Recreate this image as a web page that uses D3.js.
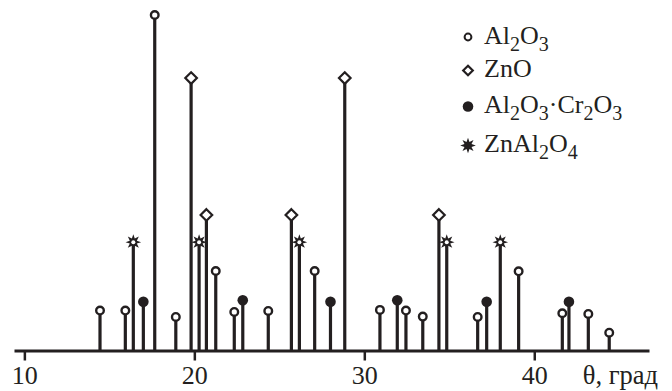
<!DOCTYPE html>
<html><head><meta charset="utf-8">
<script src="https://cdn.jsdelivr.net/npm/d3@7"></script>
<style>html,body{margin:0;padding:0;background:#fff}svg{display:block;font-family:"Liberation Serif","Times New Roman",serif}</style>
</head><body>
<svg id="c" width="672" height="391"></svg>
<script>
// theta positions and relative intensities for each phase
const al2o3Theta = [14.45, 15.94, 17.67, 18.91, 21.26, 22.35, 24.35, 27.08, 30.92, 32.45, 33.44, 36.67, 39.08, 41.65, 43.18, 44.41];
const al2o3Int   = [11.9, 11.9, 100, 10.0, 23.7, 11.5, 11.8, 23.7, 12.1, 11.9, 10.1, 10.0, 23.6, 11.1, 10.9, 5.3];
const znoTheta   = [19.81, 20.71, 25.71, 28.85, 34.39];
const znoInt     = [81.2, 40.4, 40.4, 81.2, 40.4];
const crTheta    = [17.0, 22.85, 28.01, 31.94, 37.2, 42.04];
const crInt      = [14.5, 15.0, 14.5, 15.0, 14.5, 14.5];
const spTheta    = [16.41, 20.28, 26.18, 34.85, 38.0];
const spInt      = [32.3, 32.3, 32.3, 32.3, 32.3];
const xTicks = [10, 20, 30, 40];
const xLabel = "θ, град";

const ink = "#231f20";
const FONT = '"Liberation Serif","Times New Roman",serif';
const svg = d3.select("#c");
const x = d3.scaleLinear().domain([9.39, 46.75]).range([14, 649]);
const y = d3.scaleLinear().domain([0, 100]).range([350.5, 15]);

const series = [
  {type: "open",    theta: al2o3Theta, val: al2o3Int},
  {type: "diamond", theta: znoTheta,   val: znoInt},
  {type: "filled",  theta: crTheta,    val: crInt},
  {type: "star",    theta: spTheta,    val: spInt}
];

function starPath(R, r, n) {
  const pts = [];
  for (let i = 0; i < 2 * n; i++) {
    const a = Math.PI * i / n - Math.PI / 2;
    const rad = i % 2 === 0 ? R : r;
    pts.push([rad * Math.cos(a), rad * Math.sin(a)]);
  }
  return d3.line()(pts) + "Z";
}

function drawMarker(g, type, cx, cy, legend) {
  if (type === "open") {
    g.append("circle").attr("cx", cx).attr("cy", cy).attr("r", legend ? 3.4 : 3.8)
      .attr("fill", "#fff").attr("stroke", ink).attr("stroke-width", legend ? 2 : 2.4);
  } else if (type === "filled") {
    g.append("circle").attr("cx", cx).attr("cy", cy).attr("r", 5.3).attr("fill", ink);
  } else if (type === "diamond") {
    const s = legend ? 4.8 : 5.8;
    g.append("path").attr("d", `M${cx},${cy - s}L${cx + s},${cy}L${cx},${cy + s}L${cx - s},${cy}Z`)
      .attr("fill", "#fff").attr("stroke", ink).attr("stroke-width", 2.2);
  } else if (type === "star") {
    g.append("path").attr("d", starPath(7.8, 3.8, 8)).attr("transform", `translate(${cx},${cy})`).attr("fill", ink);
    if (!legend) g.append("circle").attr("cx", cx).attr("cy", cy).attr("r", 2).attr("fill", "#fff");
  }
}

// stems
const gS = svg.append("g");
series.forEach(s => {
  s.theta.forEach((t, i) => {
    gS.append("line").attr("x1", x(t)).attr("x2", x(t)).attr("y1", y(0)).attr("y2", y(s.val[i]))
      .attr("stroke", ink).attr("stroke-width", 3.2);
  });
});
// axis
const axis = d3.axisBottom(x).tickValues(xTicks).tickSizeInner(10).tickSizeOuter(0).tickPadding(6).tickFormat(d3.format("d"));
const gA = svg.append("g").attr("transform", `translate(0,${y(0)})`).call(axis);
gA.attr("font-family", FONT);
gA.select(".domain").attr("stroke", ink).attr("stroke-width", 3);
gA.selectAll(".tick line").attr("stroke", ink).attr("stroke-width", 2.5);
gA.selectAll(".tick text").attr("fill", ink).style("font-size", "26px").style("font-family", FONT)
  .attr("dy", null).attr("y", 33.5);
svg.append("text").attr("x", 658).attr("y", 384).attr("text-anchor", "end")
  .style("font-size", "26.5px").style("font-family", FONT).attr("fill", ink).text(xLabel);

// markers
const gM = svg.append("g");
series.forEach(s => {
  s.theta.forEach((t, i) => drawMarker(gM, s.type, x(t), y(s.val[i]), false));
});

// legend
const legendItems = [
  {type: "open",    parts: [["Al",0],["2",1],["O",0],["3",1]]},
  {type: "diamond", parts: [["ZnO",0]]},
  {type: "filled",  parts: [["Al",0],["2",1],["O",0],["3",1],["·Cr",0],["2",1],["O",0],["3",1]]},
  {type: "star",    parts: [["ZnAl",0],["2",1],["O",0],["4",1]]}
];
const legRows = [37, 70.5, 106.5, 145.5];
const gL = svg.append("g");
legendItems.forEach((it, i) => {
  drawMarker(gL, it.type, 468, legRows[i], true);
  const t = gL.append("text").attr("x", 484).attr("y", legRows[i] + 6.5).attr("fill", ink)
    .style("font-size", "26px").style("font-family", FONT);
  let shift = 0;
  it.parts.forEach(p => {
    const ts = t.append("tspan").text(p[0]);
    if (p[1]) { ts.style("font-size", "20px").attr("dy", 7 - shift); shift = 7; }
    else { ts.attr("dy", -shift); shift = 0; }
  });
});
</script>
</body></html>
